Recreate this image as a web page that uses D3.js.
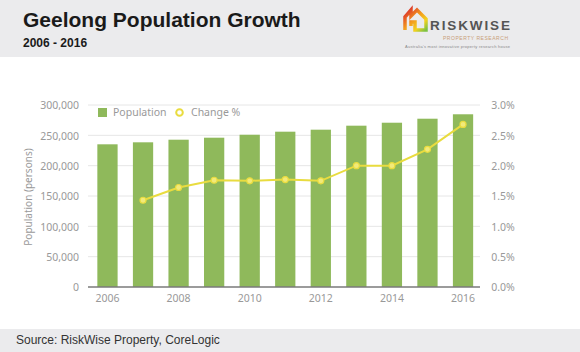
<!DOCTYPE html>
<html><head><meta charset="utf-8">
<script src="https://cdn.jsdelivr.net/npm/d3@7"></script>
<style>body{margin:0;background:#fff}svg{display:block}</style>
</head><body>
<script>
const years = [2006,2007,2008,2009,2010,2011,2012,2013,2014,2015,2016];
const population = [235200,238500,242800,246100,251000,256000,259300,265900,270800,277400,284700];
const changePct = [null,1.43,1.64,1.76,1.75,1.77,1.75,2.0,2.0,2.27,2.68];
const leftTicks = [0,50000,100000,150000,200000,250000,300000];
const rightTicks = [0,0.5,1.0,1.5,2.0,2.5,3.0];
const xTickYears = [2006,2008,2010,2012,2014,2016];

const W=580,H=352;
const svg=d3.select("body").append("svg").attr("width",W).attr("height",H);
const axisFont="'Noto Sans', sans-serif";

// header & footer
svg.append("rect").attr("x",0).attr("y",0).attr("width",W).attr("height",57).attr("fill","#ebebed");
svg.append("rect").attr("x",0).attr("y",329).attr("width",W).attr("height",23).attr("fill","#ebebed");
svg.append("text").attr("x",23).attr("y",27).text("Geelong Population Growth")
  .attr("font-family","'Liberation Sans', Arial, sans-serif").attr("font-weight","bold").attr("font-size",21).attr("fill","#1a1a1a");
svg.append("text").attr("x",23).attr("y",47).text("2006 - 2016")
  .attr("font-family","'Liberation Sans', Arial, sans-serif").attr("font-weight","bold").attr("font-size",12).attr("fill","#1a1a1a");
svg.append("text").attr("x",16).attr("y",344).text("Source: RiskWise Property, CoreLogic")
  .attr("font-family","'Liberation Sans', Arial, sans-serif").attr("font-size",12).attr("fill","#333");

// logo
const defs=svg.append("defs");
const lg=defs.append("linearGradient").attr("id","lg").attr("x1","0").attr("y1","0").attr("x2","1").attr("y2","1");
lg.append("stop").attr("offset","0%").attr("stop-color","#d9262b");
lg.append("stop").attr("offset","45%").attr("stop-color","#f39a1e");
lg.append("stop").attr("offset","75%").attr("stop-color","#f3d21e");
lg.append("stop").attr("offset","100%").attr("stop-color","#7cc242");
const logo=svg.append("g");
logo.append("path").attr("d","M405,30 L405,17 L411,10 L411,16 L417,10 L426,19 L426,30 L415,30 L415,22 L411,22 L411,26")
  .attr("fill","none").attr("stroke","url(#lg)").attr("stroke-width",3.5).attr("stroke-linejoin","miter");
logo.append("text").attr("x",430).attr("y",30).text("RISKWISE")
  .attr("font-family","'Liberation Sans', Arial, sans-serif").attr("font-weight","bold").attr("font-size",13.5).attr("fill","#555").attr("textLength",80);
logo.append("text").attr("x",443).attr("y",40).text("PROPERTY RESEARCH")
  .attr("font-family","'Liberation Sans', Arial, sans-serif").attr("font-size",5).attr("fill","#c9a07a").attr("textLength",66).attr("letter-spacing",1);
logo.append("text").attr("x",405).attr("y",48).text("Australia's most innovative property research house")
  .attr("font-family","'Liberation Sans', Arial, sans-serif").attr("font-size",4).attr("fill","#888").attr("textLength",105);

// scales
const x=d3.scaleBand().domain(years).range([89.7,480.8]).paddingInner(0.43).paddingOuter(0.215);
const y=d3.scaleLinear().domain([0,300000]).range([287,105]);
const y2=d3.scaleLinear().domain([0,3]).range([287,105]);

// gridlines
svg.append("g").selectAll("line").data(leftTicks.slice(1)).join("line")
  .attr("x1",88).attr("x2",480).attr("y1",d=>y(d)).attr("y2",d=>y(d))
  .attr("stroke","#e6e6e6").attr("stroke-width",1);

// bars
svg.append("g").selectAll("rect").data(years).join("rect")
  .attr("x",d=>x(d)).attr("width",x.bandwidth())
  .attr("y",(d,i)=>y(population[i])).attr("height",(d,i)=>y(0)-y(population[i]))
  .attr("fill","#8fb95b");

// baseline
svg.append("line").attr("x1",88).attr("x2",480).attr("y1",y(0)).attr("y2",y(0)).attr("stroke","#7a7a7a").attr("stroke-width",1.5);

// left axis
const la=svg.append("g").attr("transform","translate(79,0)")
  .call(d3.axisLeft(y).tickValues(leftTicks).tickSize(0).tickPadding(0).tickFormat(d3.format(",")));
la.select(".domain").remove();
la.selectAll("text").attr("font-family",axisFont).attr("font-size",10.5).attr("fill","#999").attr("dy","0.35em");

// right axis
const ra=svg.append("g").attr("transform","translate(503,0)")
  .call(d3.axisRight(y2).tickValues(rightTicks).tickSize(0).tickPadding(0).tickFormat(d=>d3.format(".1f")(d)+"%"));
ra.select(".domain").remove();
ra.selectAll("text").attr("text-anchor","middle").attr("font-family",axisFont).attr("font-size",10.5).attr("fill","#999").attr("dy","0.35em");

// x axis
const xa=svg.append("g").attr("transform","translate(0,287)")
  .call(d3.axisBottom(x).tickValues(xTickYears).tickSize(0).tickPadding(8).tickFormat(d3.format("d")));
xa.select(".domain").remove();
xa.selectAll("text").attr("font-family",axisFont).attr("font-size",10.5).attr("fill","#999");

// y title
svg.append("text").attr("transform","translate(28,197) rotate(-90)").attr("text-anchor","middle")
  .attr("dy","0.35em").text("Population (persons)")
  .attr("font-family",axisFont).attr("font-size",10).attr("fill","#999");

// line
const pts=years.map((yr,i)=>({yr,v:changePct[i]})).filter(d=>d.v!=null);
const cx=d=>x(d)+x.bandwidth()/2;
svg.append("path").datum(pts)
  .attr("d",d3.line().x(d=>cx(d.yr)).y(d=>y2(d.v)))
  .attr("fill","none").attr("stroke","#e9dc3f").attr("stroke-width",2);
svg.append("g").selectAll("circle").data(pts).join("circle")
  .attr("cx",d=>cx(d.yr)).attr("cy",d=>y2(d.v)).attr("r",3)
  .attr("fill","#f2ea7a").attr("stroke","#e9dc3f").attr("stroke-width",1.2);

// legend
const lgG=svg.append("g");
lgG.append("rect").attr("x",98).attr("y",108).attr("width",9).attr("height",9).attr("fill","#8fb95b");
lgG.append("text").attr("x",113).attr("y",112.5).attr("dy","0.35em").text("Population")
  .attr("font-family",axisFont).attr("font-size",10.5).attr("fill","#999");
lgG.append("circle").attr("cx",179.5).attr("cy",112.5).attr("r",3.3).attr("fill","#fff").attr("stroke","#e9dc3f").attr("stroke-width",2);
lgG.append("text").attr("x",191).attr("y",112.5).attr("dy","0.35em").text("Change %")
  .attr("font-family",axisFont).attr("font-size",10.5).attr("fill","#999");
</script>
</body></html>
